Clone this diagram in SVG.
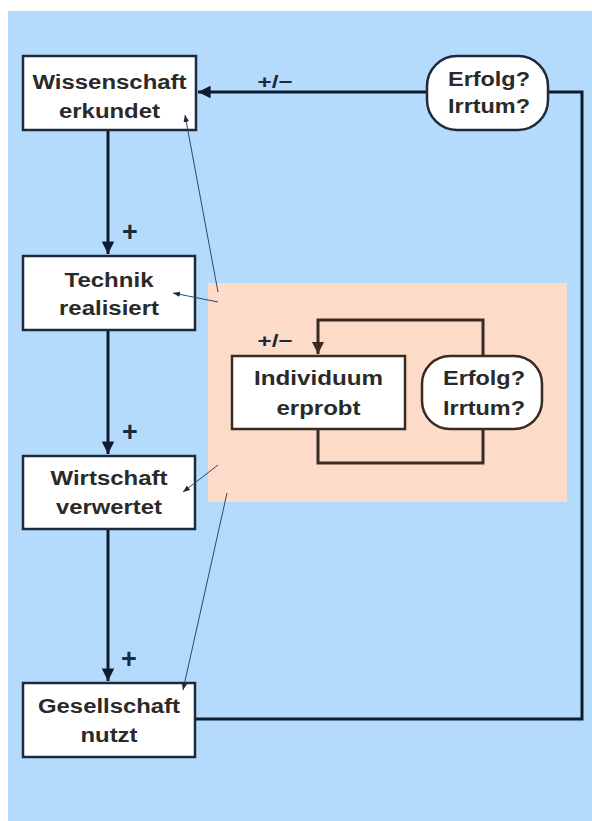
<svg xmlns="http://www.w3.org/2000/svg" width="592" height="821" viewBox="0 0 592 821">
<defs>
<style>
.node{fill:#ffffff;stroke:#1b2a3c;stroke-width:2.5}
.inode{fill:#ffffff;stroke:#3a2a22;stroke-width:2.5}
.t{font-family:"Liberation Sans",Arial,sans-serif;font-weight:bold;font-size:20px;fill:#2a2a2a;text-anchor:middle}
.lbl{font-family:"Liberation Sans",Arial,sans-serif;font-weight:bold;font-size:18px;fill:#1b2a3c;text-anchor:middle}
.plus{font-family:"Liberation Sans",Arial,sans-serif;font-weight:bold;font-size:27px;fill:#1b2a3c;text-anchor:middle}
.main{fill:none;stroke:#0f1c2e;stroke-width:3}
.inner{fill:none;stroke:#3a2a22;stroke-width:3}
.thin{fill:none;stroke:#2e4a68;stroke-width:1}
</style>
<marker id="ah" viewBox="0 0 10 10" refX="10" refY="5" markerWidth="4.2" markerHeight="4.2" orient="auto" markerUnits="strokeWidth">
<path d="M0,0 L10,5 L0,10 Z" fill="#0f1c2e"/>
</marker>
<marker id="ahi" viewBox="0 0 10 10" refX="10" refY="5" markerWidth="4" markerHeight="4" orient="auto" markerUnits="strokeWidth">
<path d="M0,0 L10,5 L0,10 Z" fill="#3a2a22"/>
</marker>
<marker id="aht" viewBox="0 0 10 10" refX="10" refY="5" markerWidth="7" markerHeight="7" orient="auto" markerUnits="strokeWidth">
<path d="M0,1 L10,5 L0,9 Z" fill="#1b2a3c"/>
</marker>
</defs>
<rect x="0" y="0" width="592" height="821" fill="#ffffff"/>
<rect x="8" y="11" width="584" height="810" fill="#b4dbfb"/>
<rect x="208" y="283" width="359" height="219" fill="#fcdcc8"/>

<g id="wissenschaft">
<rect class="node" x="23" y="56" width="173" height="74"/>
<text class="t" x="109.5" y="89" textLength="154" lengthAdjust="spacingAndGlyphs">Wissenschaft</text>
<text class="t" x="109.5" y="118" textLength="101" lengthAdjust="spacingAndGlyphs">erkundet</text>
</g>
<g id="technik">
<rect class="node" x="23" y="256" width="172" height="74"/>
<text class="t" x="109" y="287" textLength="89" lengthAdjust="spacingAndGlyphs">Technik</text>
<text class="t" x="109" y="315" textLength="100" lengthAdjust="spacingAndGlyphs">realisiert</text>
</g>
<g id="wirtschaft">
<rect class="node" x="23" y="456" width="172" height="73"/>
<text class="t" x="109" y="485" textLength="117" lengthAdjust="spacingAndGlyphs">Wirtschaft</text>
<text class="t" x="109" y="514" textLength="106" lengthAdjust="spacingAndGlyphs">verwertet</text>
</g>
<g id="gesellschaft">
<rect class="node" x="23" y="683" width="172" height="74"/>
<text class="t" x="109" y="713" textLength="142" lengthAdjust="spacingAndGlyphs">Gesellschaft</text>
<text class="t" x="109" y="742" textLength="57" lengthAdjust="spacingAndGlyphs">nutzt</text>
</g>
<g id="erfolg-top">
<rect class="node" x="427" y="56" width="121" height="74" rx="30" ry="30"/>
<text class="t" x="489" y="86" textLength="82" lengthAdjust="spacingAndGlyphs">Erfolg?</text>
<text class="t" x="489" y="113" textLength="82" lengthAdjust="spacingAndGlyphs">Irrtum?</text>
</g>
<g id="individuum">
<rect class="inode" x="232" y="356" width="173" height="73"/>
<text class="t" x="318.5" y="385" textLength="129" lengthAdjust="spacingAndGlyphs">Individuum</text>
<text class="t" x="318.5" y="415" textLength="84" lengthAdjust="spacingAndGlyphs">erprobt</text>
</g>
<g id="erfolg-inner">
<rect class="inode" x="422" y="356" width="120" height="73" rx="28" ry="28"/>
<text class="t" x="484" y="385" textLength="82" lengthAdjust="spacingAndGlyphs">Erfolg?</text>
<text class="t" x="484" y="415" textLength="82" lengthAdjust="spacingAndGlyphs">Irrtum?</text>
</g>

<g id="connectors">
<path class="main" d="M108,131 V254" marker-end="url(#ah)"/>
<path class="main" d="M108,331 V454" marker-end="url(#ah)"/>
<path class="main" d="M108,530 V681" marker-end="url(#ah)"/>
<path class="main" d="M196,719 H582 V92 H549"/>
<path class="main" d="M426,92 H198" marker-end="url(#ah)"/>
<path class="inner" d="M483,355 V320 H318 V354" marker-end="url(#ahi)"/>
<path class="inner" d="M318,430 V463 H483 V430"/>
<path class="thin" d="M218,292 L185,115" marker-end="url(#aht)"/>
<path class="thin" d="M218,302 L173,293" marker-end="url(#aht)"/>
<path class="thin" d="M218,465 L183,492" marker-end="url(#aht)"/>
<path class="thin" d="M227,493 L183,690" marker-end="url(#aht)"/>
<text class="lbl" x="275" y="88" textLength="35" lengthAdjust="spacingAndGlyphs">+/−</text>
<text class="plus" x="130" y="241">+</text>
<text class="plus" x="130" y="441">+</text>
<text class="plus" x="129" y="668">+</text>
<text class="lbl" x="275" y="347" textLength="35" lengthAdjust="spacingAndGlyphs">+/−</text>
</g>
</svg>
